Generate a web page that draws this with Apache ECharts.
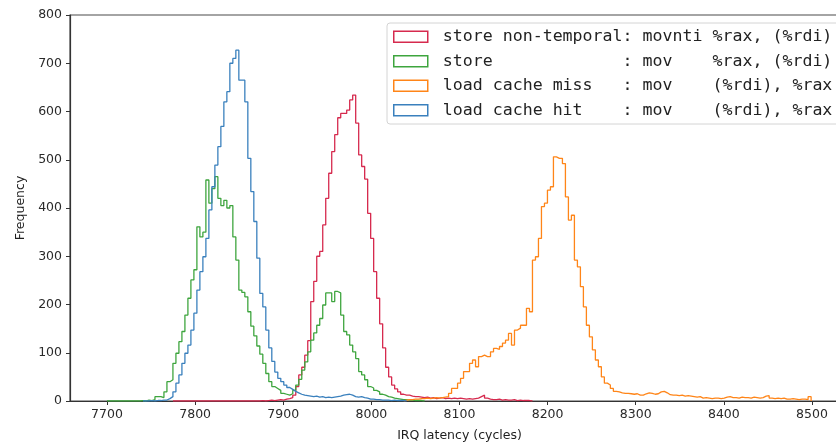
<!DOCTYPE html>
<html>
<head>
<meta charset="utf-8">
<title>IRQ latency histogram</title>
<script src="https://cdn.jsdelivr.net/npm/echarts@6/dist/echarts.min.js"></script>
<style>
  html, body { margin: 0; padding: 0; background: #fff; }
  #chart { width: 836px; height: 444px; }
</style>
</head>
<body>
<div id="chart"></div>
<script>
// histogram bins: edge of bin i = BIN_START + i * BIN_WIDTH
const BIN_START = 7700;
const BIN_WIDTH = 3.4;

const xTicks = [7700, 7800, 7900, 8000, 8100, 8200, 8300, 8400, 8500];

const seriesNames = [
  'store non-temporal: movnti %rax, (%rdi)',
  'store             : mov    %rax, (%rdi)',
  'load cache miss   : mov    (%rdi), %rax',
  'load cache hit    : mov    (%rdi), %rax'
];
const seriesColors = ['#d62a4e', '#3ea53e', '#ff8518', '#3a80bd'];

// store non-temporal (first bin index + counts)
const ntStoreStart = 22;
const ntStoreCounts = [
  0, 0, 0, 0, 0, 0, 0, 0, 0, 0, 0, 0, 0, 0, 0, 0, 0, 0, 0, 0,
  0, 0, 0, 0, 0, 0, 0, 0, 0, 1, 0, 1, 2, 1, 2, 3, 2, 4, 5, 7,
  12, 30, 54, 70, 95, 125, 206, 248, 300, 310, 365, 420, 472, 517, 552, 587, 596, 596, 603, 624,
  634, 576, 510, 486, 460, 389, 337, 268, 213, 160, 110, 70, 50, 33, 25, 19, 14, 12, 12, 10,
  9, 9, 8, 7, 8, 6, 7, 5, 6, 7, 5, 6, 5, 6, 5, 6, 5, 4, 5, 4,
  5, 6, 9, 12, 6, 4, 3, 3, 4, 2, 3, 2, 2, 3, 1, 2, 1, 1, 1, 0
];

// store
const storeStart = 0;
const storeCounts = [
  0, 0, 0, 0, 0, 0, 0, 0, 0, 0, 0, 1, 0, 2, 1, 3, 9, 9, 7, 19,
  40, 44, 78, 99, 123, 144, 178, 213, 251, 272, 361, 340, 350, 458, 410, 440, 465, 420, 405, 416,
  400, 405, 340, 292, 230, 225, 216, 185, 155, 135, 114, 97, 78, 57, 40, 30, 26, 22, 16, 14,
  12, 15, 22, 33, 45, 64, 81, 102, 126, 141, 157, 171, 199, 224, 224, 206, 227, 224, 178, 144,
  137, 116, 102, 88, 61, 54, 44, 30, 27, 22, 19, 14, 12, 9, 8, 6, 5, 4, 3, 3,
  2, 2, 1, 1, 1, 0
];

// load cache miss
const missStart = 99;
const missCounts = [
  2, 3, 3, 4, 4, 5, 5, 6, 5, 6, 7, 6, 7, 8, 9,
  16, 26, 26, 37, 47, 61, 61, 78, 85, 71, 92, 95, 92, 92, 102,
  109, 107, 113, 120, 126, 140, 116, 147, 151, 157, 157, 192, 185, 292, 299,
  337, 403, 410, 437, 444, 506, 503, 503, 492, 423, 375, 385, 292, 278, 237,
  195, 157, 133, 106, 85, 71, 50, 37, 33, 26, 20, 19, 17, 16, 16,
  15, 14, 15, 12, 12, 15, 17, 16, 14, 15, 19, 20, 17, 13, 12,
  12, 11, 12, 10, 11, 10, 9, 8, 9, 6, 7, 6, 5, 6, 6,
  5, 6, 8, 9, 7, 7, 6, 8, 7, 7, 6, 8, 7, 6, 7,
  10, 11, 6, 5, 6, 5, 6, 4, 4, 5, 4, 3, 4, 4, 3,
  9
];

// load cache hit
const hitStart = 12;
const hitCounts = [
  0, 0, 1, 0, 1, 1, 2, 2,
  5, 9, 19, 37, 54, 78, 99, 116, 147, 182, 230, 268, 299, 337, 396, 444, 489, 527, 569, 620,
  641, 700, 710, 727, 665, 665, 620, 503, 434, 372, 296, 223, 195, 147, 110, 82, 60, 47, 40, 33,
  28, 24, 20, 17, 14, 12, 11, 10, 9, 10, 8, 9, 7, 8, 7, 8, 9, 10, 12, 13,
  14, 12, 9, 8, 9, 7, 6, 4, 4, 3, 3, 2, 2, 2, 1, 2, 1, 1, 1, 0
];

// outline of a step histogram: rise at the first edge, fall at the last
function stepPoints(start, counts) {
  const pts = [[BIN_START + start * BIN_WIDTH, 0]];
  counts.forEach((c, i) => {
    pts.push([BIN_START + (start + i) * BIN_WIDTH, c]);
  });
  pts.push([BIN_START + (start + counts.length) * BIN_WIDTH, 0]);
  return pts;
}

const histData = [
  stepPoints(ntStoreStart, ntStoreCounts),
  stepPoints(storeStart, storeCounts),
  stepPoints(missStart, missCounts),
  stepPoints(hitStart, hitCounts)
];

const axisFont = 'DejaVu Sans';
const chart = echarts.init(document.getElementById('chart'), null, { renderer: 'canvas' });

chart.setOption({
  animation: false,
  backgroundColor: '#fff',
  grid: {
    left: 70,
    width: 779,   // right spine falls just outside the picture, as in the source
    top: 15,
    height: 386,
    outerBoundsMode: 'none',
    show: true,
    borderColor: '#4a4a4a',
    borderWidth: 1.2
  },
  legend: {
    orient: 'vertical',
    left: 387,
    top: 23,
    padding: [4, 12, 4, 6],
    itemGap: 5,
    itemWidth: 34,
    itemHeight: 11,
    backgroundColor: 'rgba(255,255,255,0.85)',
    borderColor: '#d4d4d4',
    borderWidth: 1,
    borderRadius: 3,
    formatter: name => ' ' + name,
    textStyle: {
      fontFamily: 'DejaVu Sans Mono',
      fontSize: 16.6,
      lineHeight: 19.5,
      color: '#222'
    },
    data: seriesNames.map((name, i) => ({
      name: name,
      icon: 'rect',
      itemStyle: {
        color: 'rgba(255,255,255,0)',
        borderColor: seriesColors[i],
        borderWidth: 1.5
      }
    }))
  },
  xAxis: {
    type: 'value',
    min: 7658,
    max: 8542,
    name: 'IRQ latency (cycles)',
    nameLocation: 'middle',
    nameGap: 28,
    nameTextStyle: { fontFamily: axisFont, fontSize: 12.5, color: '#1e1e1e' },
    axisLine: { onZero: false, lineStyle: { color: '#333', width: 1.2 } },
    axisTick: { show: true, inside: false, length: 4, customValues: xTicks,
      lineStyle: { color: '#333' } },
    axisLabel: { customValues: xTicks, formatter: v => String(v), margin: 7,
      fontFamily: axisFont, fontSize: 12.5, color: '#2a2a2a' },
    splitLine: { show: false }
  },
  yAxis: {
    type: 'value',
    min: 0,
    max: 800,
    interval: 100,
    name: 'Frequency',
    nameLocation: 'middle',
    nameRotate: 90,
    nameGap: 35,
    nameTextStyle: { fontFamily: axisFont, fontSize: 12.5, color: '#1e1e1e' },
    axisLine: { show: true, lineStyle: { color: '#333', width: 1.2 } },
    axisTick: { show: true, inside: false, length: 4, lineStyle: { color: '#333' } },
    axisLabel: { margin: 8, fontFamily: axisFont, fontSize: 12.5, color: '#2a2a2a' },
    splitLine: { show: false }
  },
  series: histData.map((d, i) => ({
    name: seriesNames[i],
    type: 'line',
    step: 'end',
    data: d,
    symbol: 'none',
    color: seriesColors[i],
    lineStyle: { color: seriesColors[i], width: 1.3 },
    emphasis: { disabled: true }
  }))
});
</script>
</body>
</html>
